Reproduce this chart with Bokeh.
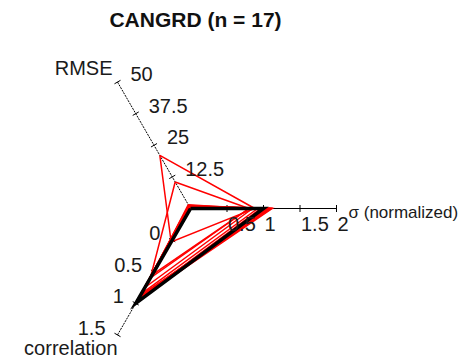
import numpy as np
from bokeh.plotting import figure
from bokeh.models import Range1d
from bokeh.core.properties import value
from bokeh.embed import file_html
from bokeh.resources import INLINE

# ---- data -------------------------------------------------------------
title_text = "CANGRD (n = 17)"
axis_names = ["RMSE", "σ (normalized)", "correlation"]

rmse_ticks = [12.5, 25, 37.5, 50]
sigma_ticks = [0.5, 1, 1.5, 2]
corr_ticks = [0, 0.5, 1, 1.5]
tick_labels_rmse = ["12.5", "25", "37.5", "50"]
tick_labels_sigma = ["0.5", "1", "1.5", "2"]
tick_labels_corr = ["0", "0.5", "1", "1.5"]

rmse_range = (0.0, 50.0)
sigma_range = (0.0, 2.0)
corr_range = (-0.5, 1.5)

# one entry per model (17 models)
model_rmse = [21.0, 10.5, 0.8, 0.5, 1.5, 0.4, 0.9, 0.6, 1.2, 0.3, 1.1, 0.7, 0.5, 1.0, 0.6, 0.8, 0.4]
model_sigma = [0.88, 0.80, 1.12, 1.08, 0.80, 1.02, 1.10, 0.96, 1.05, 1.00, 0.85, 1.10, 1.04, 0.92, 1.06, 0.98, 1.09]
model_corr = [0.03, 0.60, 0.95, 0.92, 0.55, 0.97, 0.90, 0.94, 0.88, 0.96, 0.75, 0.93, 0.98, 0.85, 0.91, 0.95, 0.89]

# observations: perfect reference
ref_rmse, ref_sigma, ref_corr = 0.0, 1.0, 1.0

# ---- geometry ---------------------------------------------------------
W, H = 474, 361
CX, CY = 190, 208          # centre of the diagram in screen pixels
R_PX = 146                 # pixels per unit radius
ANG = {"rmse": np.deg2rad(120), "sigma": 0.0, "corr": np.deg2rad(240)}
RNG = {"rmse": rmse_range, "sigma": sigma_range, "corr": corr_range}
FONT = value("Liberation Sans")


def radius(axis, v):
    lo, hi = RNG[axis]
    return (np.asarray(v, dtype=float) - lo) / (hi - lo)


def xy(axis, v):
    r = radius(axis, v)
    return r * np.cos(ANG[axis]), r * np.sin(ANG[axis])


p = figure(width=W, height=H, toolbar_location=None, output_backend="svg",
           x_range=Range1d(-CX / R_PX, (W - CX) / R_PX),
           y_range=Range1d(-(H - CY) / R_PX, CY / R_PX),
           min_border=0, title=None)
p.axis.visible = False
p.grid.visible = False
p.outline_line_color = None
p.background_fill_color = "white"
p.border_fill_color = "white"

# ---- axes -------------------------------------------------------------
for axis, dash in (("rmse", "2 1"), ("corr", "2 1"), ("sigma", "solid")):
    ex, ey = xy(axis, RNG[axis][1])
    p.line([0, ex], [0, ey], line_color="black", line_width=1, line_dash=dash)

half = 3.5 / R_PX
for axis, ticks in (("rmse", rmse_ticks), ("sigma", sigma_ticks), ("corr", corr_ticks)):
    tx, ty = xy(axis, ticks)
    nx, ny = -np.sin(ANG[axis]), np.cos(ANG[axis])
    p.segment(x0=tx - half * nx, y0=ty - half * ny, x1=tx + half * nx, y1=ty + half * ny,
              line_color="black", line_width=1)

# ---- model polygons ---------------------------------------------------
xs, ys = [], []
for r_, s_, c_ in zip(model_rmse, model_sigma, model_corr):
    ax_, ay_ = xy("rmse", r_)
    bx_, by_ = xy("sigma", s_)
    cx_, cy_ = xy("corr", c_)
    xs.append([ax_, bx_, cx_, ax_])
    ys.append([ay_, by_, cy_, ay_])
p.multi_line(xs, ys, line_color="#ff0000", line_width=1.5, line_join="miter")

ax_, ay_ = xy("rmse", ref_rmse)
bx_, by_ = xy("sigma", ref_sigma)
cx_, cy_ = xy("corr", ref_corr)
p.line([ax_, bx_, cx_, ax_], [ay_, by_, cy_, ay_], line_color="black",
       line_width=3.5, line_join="miter")

# ---- tick labels ------------------------------------------------------
LBL = "20px"
INK = "#1a1a1a"
tx, ty = xy("rmse", rmse_ticks)
p.text(x=tx, y=ty, text=tick_labels_rmse, text_font=FONT, text_font_size=LBL,
       text_align="left", text_baseline="middle", x_offset=13, y_offset=-8, text_color=INK)
tx, ty = xy("sigma", sigma_ticks)
p.text(x=tx, y=ty, text=tick_labels_sigma, text_font=FONT, text_font_size=LBL,
       text_align="left", text_baseline="middle", x_offset=1, y_offset=15, text_color=INK)
tx, ty = xy("corr", corr_ticks)
p.text(x=tx, y=ty, text=tick_labels_corr, text_font=FONT, text_font_size=LBL,
       text_align="right", text_baseline="middle", x_offset=-12, y_offset=-7, text_color=INK)

# ---- axis names -------------------------------------------------------
ex, ey = xy("rmse", rmse_range[1])
p.text(x=[ex], y=[ey], text=[axis_names[0]], text_font=FONT, text_font_size=LBL,
       text_align="right", text_baseline="middle", x_offset=-5, y_offset=-14, text_color=INK)
ex, ey = xy("sigma", sigma_range[1])
p.text(x=[ex], y=[ey], text=[axis_names[1]], text_font=FONT, text_font_size="17px",
       text_align="left", text_baseline="middle", x_offset=12, y_offset=4, text_color=INK)
ex, ey = xy("corr", corr_range[1])
p.text(x=[ex], y=[ey], text=[axis_names[2]], text_font=FONT, text_font_size=LBL,
       text_align="right", text_baseline="middle", x_offset=0, y_offset=13, text_color=INK)

# ---- title ------------------------------------------------------------
p.text(x=[(195 - CX) / R_PX], y=[(CY - 19) / R_PX], text=[title_text], text_font=FONT,
       text_font_size="21px", text_font_style="bold", text_align="center",
       text_baseline="middle", text_color="#111111")

open("out.html", "w").write(file_html(p, INLINE))
